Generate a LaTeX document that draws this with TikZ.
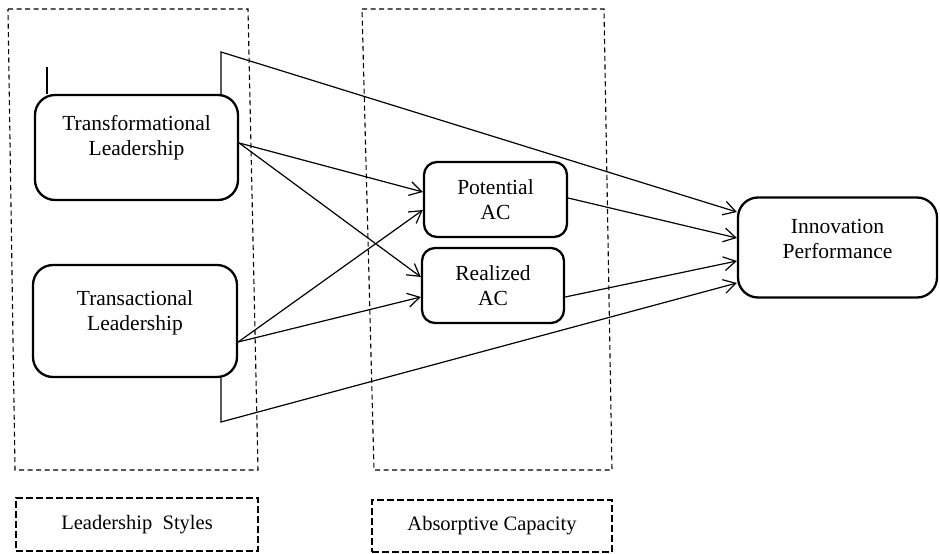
\documentclass[tikz,border=0pt]{standalone}
\usepackage{fontspec}
\setmainfont{Liberation Serif}
\usetikzlibrary{arrows.meta}
\begin{document}
\begin{tikzpicture}[x=1pt,y=-1pt,
  box/.style={draw,line width=2.3pt,rounded corners=20pt,minimum width=#1},
  smallbox/.style={draw,line width=2.3pt,rounded corners=13pt,minimum width=#1,minimum height=75pt},
  lbl/.style={align=center,font=\fontsize{21.5}{25}\selectfont,inner sep=0pt},
  conn/.style={line width=1.2pt,-{Straight Barb[length=12pt,width=14pt,line width=1.2pt]}},
  plain/.style={line width=1.2pt},
  region/.style={line width=1.1pt,dash pattern=on 5pt off 3.5pt},
  tagbox/.style={draw,line width=2.4pt,dash pattern=on 7pt off 3pt,align=center,font=\fontsize{20.5}{25}\selectfont}]
\useasboundingbox (0,0) rectangle (940,554);
% region boxes
\draw[region] (8,9) -- (248,9) -- (258,470) -- (15,470) -- cycle;
\draw[region] (362,9) -- (604,9) -- (612,470) -- (374,470) -- cycle;
% nodes
\node[box=203pt,minimum height=105pt] (tf) at (136.5,147.5) {};
\node[lbl] (tft) at ([yshift=10pt]tf.center) {Transformational\\Leadership};
\node[box=204pt,minimum height=112pt] (ta) at (135,321) {};
\node[lbl] (tat) at ([yshift=8pt]ta.center) {Transactional\\Leadership};
\node[smallbox=143pt] (pa) at (495.5,199.5) {};
\node[lbl] (pat) at (pa.center) {Potential\\AC};
\node[smallbox=142pt] (ra) at (493,285.5) {};
\node[lbl] (rat) at (ra.center) {Realized\\AC};
\node[box=199pt,minimum height=100pt] (ip) at (837.5,247.5) {};
\node[lbl] (ipt) at ([yshift=9pt]ip.center) {Innovation\\Performance};
\node[tagbox,minimum width=242pt,minimum height=53pt] (ls) at (137,524.5) {Leadership\ \ Styles};
\node[tagbox,minimum width=240pt,minimum height=52pt] (ac) at (492,526) {Absorptive Capacity};
% stub line on transformational box
\coordinate (stub) at (47,67);
\draw[line width=2pt] (tf.north -| stub) -- (stub);
% direct paths to innovation performance
\coordinate (tk) at (221,52);
\coordinate (bk) at (221,422);
\draw[conn] (tf.north -| tk) -- (tk) -- ([yshift=35.5pt]ip.west);
\draw[conn] (ta.south -| bk) -- (bk) -- ([yshift=-35.5pt]ip.west);
% leadership to AC
\draw[conn] ([yshift=4.5pt]tf.east) -- ([yshift=7.5pt]pa.west);
\draw[conn] ([yshift=4.5pt]tf.east) -- ([yshift=8.5pt]ra.west);
\draw[conn] ([yshift=-21pt]ta.east) -- ([yshift=-10.5pt]pa.west);
\draw[conn] ([yshift=-21pt]ta.east) -- ([yshift=-11.5pt]ra.west);
% AC to innovation
\draw[conn] ([yshift=1.5pt]pa.east) -- ([yshift=9.5pt]ip.west);
\draw[conn] ([yshift=-11.5pt]ra.east) -- ([yshift=-13.5pt]ip.west);
\end{tikzpicture}
\end{document}
